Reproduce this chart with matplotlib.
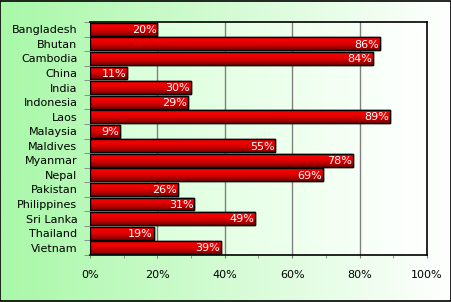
import numpy as np
import matplotlib
matplotlib.use('Agg')
from matplotlib import pyplot as plt
from matplotlib.colors import LinearSegmentedColormap
from matplotlib.ticker import MultipleLocator, FixedLocator

countries = ['Bangladesh', 'Bhutan', 'Cambodia', 'China', 'India', 'Indonesia',
             'Laos', 'Malaysia', 'Maldives', 'Myanmar', 'Nepal', 'Pakistan',
             'Philippines', 'Sri Lanka', 'Thailand', 'Vietnam']
values = [20, 86, 84, 11, 30, 29, 89, 9, 55, 78, 69, 26, 31, 49, 19, 39]
xticks = [0, 20, 40, 60, 80, 100]

W, H = 452, 302
fig = plt.figure(figsize=(W / 100, H / 100), dpi=100)

# figure background gradient
bg = fig.add_axes([0, 0, 1, 1])
bg_cmap = LinearSegmentedColormap.from_list('bg', ['#a8f8a8', '#ffffff'])
bg.imshow(np.linspace(0, 1, 256)[None, :], aspect='auto', cmap=bg_cmap,
          extent=[0, 1, 0, 1])
bg.set_xlim(0, 1)
bg.set_ylim(0, 1)
bg.axis('off')
bg.add_patch(plt.Rectangle((0.001, 0.002), 0.997, 0.995, fill=False,
                           edgecolor='black', lw=1.2, transform=bg.transAxes))

# plot area
left, right, top, bottom = 90, 427, 22, 255
ax = fig.add_axes([left / W, 1 - bottom / H, (right - left) / W, (bottom - top) / H])
n = len(countries)
ax.set_xlim(0, 100)
ax.set_ylim(n - 0.5, -0.5)

pa_cmap = LinearSegmentedColormap.from_list('pa', ['#d4ffd4', '#ffffff'])
ax.imshow(np.linspace(0, 1, 256)[None, :], aspect='auto', cmap=pa_cmap,
          extent=[0, 100, n - 0.5, -0.5], zorder=0)

for xt in xticks[1:-1]:
    ax.axvline(xt, color='#808080', lw=1, zorder=1)

bar_cmap = LinearSegmentedColormap.from_list('bar', ['#ff0000', '#e00000', '#800000'])
grad = np.linspace(0, 1, 64)[:, None]
bars = ax.barh(range(n), values, height=0.88, color='#d00000',
               edgecolor='black', lw=1, zorder=2)
for b, v in zip(bars, values):
    y0 = b.get_y()
    im = ax.imshow(grad, aspect='auto', cmap=bar_cmap,
                   extent=[0, v, y0 + b.get_height(), y0], zorder=3)
    im.set_clip_path(b)
    ax.barh(b.get_y() + b.get_height() / 2, v, height=b.get_height(),
            color='none', edgecolor='black', lw=1, zorder=4)
    ax.text(v - 0.3, y0 + b.get_height() / 2 + 0.05, '%d%%' % v, color='white',
            ha='right', va='center', fontsize=8, zorder=5)

ax.set_xticks(xticks)
ax.set_xticklabels(['%d%%' % x for x in xticks], fontsize=8)
ax.xaxis.set_minor_locator(MultipleLocator(10))
ax.tick_params(axis='x', which='both', length=2.5, color='#808080', pad=8)

ax.set_yticks(range(n))
ax.set_yticklabels(countries, fontsize=8)
ax.yaxis.set_minor_locator(FixedLocator(np.arange(-0.5, n, 1)))
ax.tick_params(axis='y', which='major', length=0, pad=9)
ax.tick_params(axis='y', which='minor', length=4.5, color='#808080')

for s in ['top', 'right', 'bottom']:
    ax.spines[s].set_color('black')
    ax.spines[s].set_linewidth(1.2)
ax.spines['left'].set_color('#808080')

fig.savefig('out.png', dpi=100)
